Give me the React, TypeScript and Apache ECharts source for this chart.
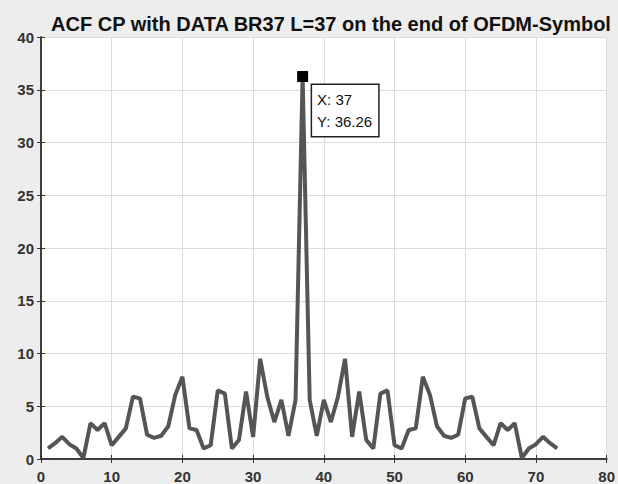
import React, { useEffect, useRef } from "react";
import * as echarts from "echarts";

const titleText = "ACF CP with DATA BR37 L=37 on the end of OFDM-Symbol";
const lags: number[] = Array.from({ length: 73 }, (_, i) => i + 1);
const acfValues: number[] = [
  1.0, 1.5, 2.1, 1.4, 1.0, 0.1, 3.4, 2.75, 3.4, 1.3,
  2.1, 2.9, 5.9, 5.75, 2.3, 2.0, 2.2, 3.1, 6.1, 7.8,
  2.9, 2.75, 1.0, 1.3, 6.5, 6.2, 1.0, 1.8, 6.4, 2.1,
  9.5, 5.9, 3.5, 5.6, 2.2, 5.6, 36.26, 5.6, 2.2, 5.6,
  3.5, 5.9, 9.5, 2.1, 6.4, 1.8, 1.0, 6.2, 6.5, 1.3,
  1.0, 2.75, 2.9, 7.8, 6.1, 3.1, 2.2, 2.0, 2.3, 5.75,
  5.9, 2.9, 2.1, 1.3, 3.4, 2.75, 3.4, 0.1, 1.0, 1.4,
  2.1, 1.5, 1.0,
];
const tipX = 37;
const tipY = 36.26;

export default function App() {
  const ref = useRef<HTMLDivElement>(null);
  useEffect(() => {
    if (!ref.current) return;
    const chart = echarts.init(ref.current, null, { renderer: "svg" });
    const labelStyle = {
      color: "#333",
      fontWeight: "bold" as const,
      fontSize: 15,
      fontFamily: "Liberation Sans, Arial, sans-serif",
    };
    const axisLine = { show: true, lineStyle: { color: "#333", width: 1.5 } };
    const splitLine = { show: true, lineStyle: { color: "#dcdcdc", width: 1 } };
    const tick = { show: true, inside: true, length: 4, lineStyle: { color: "#333" } };
    chart.setOption({
      animation: false,
      backgroundColor: "#ededed",
      title: {
        text: titleText,
        left: 326,
        textAlign: "center",
        top: 9,
        textStyle: {
          fontSize: 20,
          fontWeight: "bold",
          color: "#111",
          fontFamily: "Liberation Sans, Arial, sans-serif",
        },
      },
      grid: {
        left: 41,
        right: 7,
        top: 37,
        bottom: 25,
        show: true,
        backgroundColor: "#ffffff",
        borderColor: "#333",
        borderWidth: 0,
      },
      xAxis: [
        {
          type: "value",
          min: 0,
          max: 80,
          interval: 10,
          position: "bottom",
          axisLine,
          axisTick: tick,
          axisLabel: { ...labelStyle, margin: 10 },
          splitLine,
        },
        {
          type: "value",
          min: 0,
          max: 80,
          interval: 10,
          position: "top",
          axisLine,
          axisTick: tick,
          axisLabel: { show: false },
          splitLine: { show: false },
        },
      ],
      yAxis: [
        {
          type: "value",
          min: 0,
          max: 40,
          interval: 5,
          position: "left",
          axisLine,
          axisTick: tick,
          axisLabel: { ...labelStyle, margin: 7 },
          splitLine,
        },
        {
          type: "value",
          min: 0,
          max: 40,
          interval: 5,
          position: "right",
          axisLine,
          axisTick: tick,
          axisLabel: { show: false },
          splitLine: { show: false },
        },
      ],
      series: [
        {
          type: "line",
          data: lags.map((x, i) => [x, acfValues[i]]),
          showSymbol: false,
          symbol: "none",
          lineStyle: { color: "#555555", width: 4 },
          markPoint: {
            symbol: "rect",
            symbolSize: 11,
            itemStyle: { color: "#000" },
            data: [{ coord: [tipX, tipY] }],
            label: {
              show: true,
              position: [15, 14],
              formatter: () => `X: ${tipX}\nY: ${tipY}`,
              color: "#111",
              fontSize: 15,
              fontFamily: "Liberation Sans, Arial, sans-serif",
              lineHeight: 22,
              backgroundColor: "#fff",
              borderColor: "#222",
              borderWidth: 1.5,
              padding: [4, 6, 3, 5],
            },
          },
        },
      ],
    });
    return () => chart.dispose();
  }, []);
  return (
    <div
      ref={ref}
      style={{ position: "fixed", left: 0, top: 0, width: 618, height: 484 }}
    />
  );
}
